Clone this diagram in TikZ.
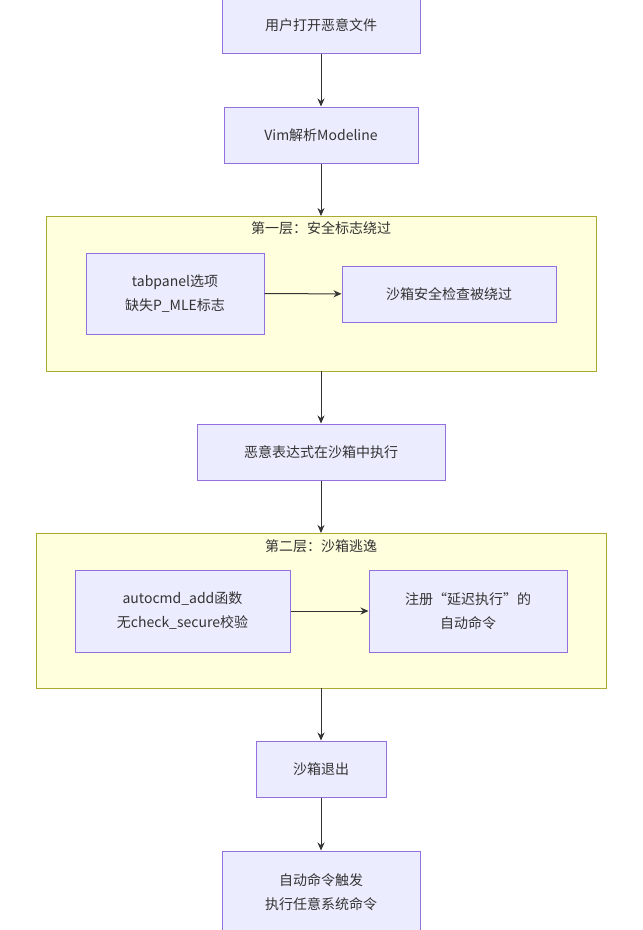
\documentclass[tikz,border=0pt]{standalone}
\usepackage{fontspec}
\setmainfont{Noto Sans CJK SC}
\usetikzlibrary{arrows.meta}
\definecolor{nf}{HTML}{ECECFF}\definecolor{nb}{HTML}{9370DB}
\definecolor{cf}{HTML}{FFFFDE}\definecolor{cb}{HTML}{AAAA33}
\definecolor{ar}{HTML}{333333}
\begin{document}
\begin{tikzpicture}[x=1pt,y=-1pt,
 box/.style={draw=nb,fill=nf,line width=1pt,align=center,font=\fontsize{14}{24}\selectfont,text=ar},
 clu/.style={draw=cb,fill=cf,line width=1pt},
 ttl/.style={font=\fontsize{14}{18}\selectfont,text=ar},
 arr/.style={draw=ar,line width=1pt,-{Stealth[length=8pt,width=7pt]}}]
\useasboundingbox (0,0) rectangle (643,930);
\fill[white] (0,0) rectangle (643,930);
\draw[clu] (46,216) rectangle (596,371);
\node[ttl] (t1) at (321,228) {第一层：安全标志绕过};
\draw[clu] (36,533) rectangle (606,688);
\node[ttl] (t2) at (321,546) {第二层：沙箱逃逸};
\node[box,minimum width=198pt,minimum height=56pt] (n1) at (321,25) {用户打开恶意文件};
\node[box,minimum width=194pt,minimum height=56pt] (n2) at (321,135) {Vim解析Modeline};
\node[box,minimum width=178pt,minimum height=81pt] (n3) at (175,293.5) {tabpanel选项\\缺失P\_MLE标志};
\node[box,minimum width=214pt,minimum height=56pt] (n4) at (449,294) {沙箱安全检查被绕过};
\node[box,minimum width=248pt,minimum height=56pt] (n5) at (321,452) {恶意表达式在沙箱中执行};
\node[box,minimum width=215pt,minimum height=82pt] (n6) at (182.5,611) {autocmd\_add函数\\无check\_secure校验};
\node[box,minimum width=198pt,minimum height=82pt] (n7) at (468,611) {注册“延迟执行”的\\自动命令};
\node[box,minimum width=130pt,minimum height=56pt] (n8) at (321,769) {沙箱退出};
\node[box,minimum width=198pt,minimum height=82pt] (n9) at (321,892) {自动命令触发\\执行任意系统命令};
\draw[arr] (n1) -- (n2);
\draw[arr] (n2) -- (321,216);
\draw[arr] (n3) -- (n4);
\draw[arr] (321,371) -- (n5);
\draw[arr] (n5) -- (321,533);
\draw[arr] (n6) -- (n7);
\draw[arr] (321,688) -- (n8);
\draw[arr] (n8) -- (n9);
\end{tikzpicture}
\end{document}
